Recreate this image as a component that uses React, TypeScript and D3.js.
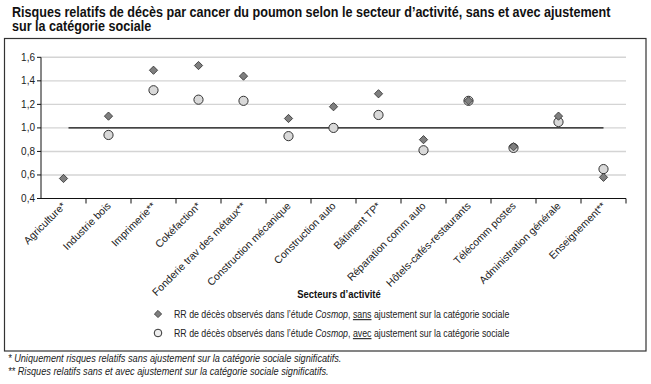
import React from 'react'
import * as d3 from 'd3'

// secteurs d'activité
const categories = [
	'Agriculture*',
	'Industrie bois',
	'Imprimerie**',
	'Cokéfaction*',
	'Fonderie trav des métaux**',
	'Construction mécanique',
	'Construction auto',
	'Bâtiment TP*',
	'Réparation comm auto',
	'Hôtels-cafés-restaurants',
	'Télécomm postes',
	'Administration générale',
	'Enseignement**',
]

// RR sans ajustement (losanges)
const rrSans = [0.57, 1.1, 1.49, 1.53, 1.44, 1.08, 1.18, 1.29, 0.9, 1.23, 0.84, 1.1, 0.58]
// RR avec ajustement (ronds) - pas de valeur pour Agriculture
const rrAvec: (number | null)[] = [null, 0.94, 1.32, 1.24, 1.23, 0.93, 1.0, 1.11, 0.81, 1.23, 0.83, 1.05, 0.65]

const yTicks = [0.4, 0.6, 0.8, 1.0, 1.2, 1.4, 1.6]

const font = '"Liberation Sans", Arial, sans-serif'

const App = () => {
	const width = 651,
		height = 384

	const x = d3.scaleBand().domain(categories).range([41, 626])
	const y = d3.scaleLinear().domain([0.4, 1.6]).range([198.5, 57.3])
	const cx = (c: string) => x(c)! + x.bandwidth() / 2
	const fmt = (v: number) => d3.format('.1f')(v).replace('.', ',')

	const diamond = d3.symbol().type(d3.symbolSquare).size(34)()!
	const diamondSmall = d3.symbol().type(d3.symbolSquare).size(26)()!
	const bottom = y(0.4)

	return (
		<svg
			width={width}
			height={height}
			style={{ position: 'absolute', left: 0, top: 0, background: '#fff' }}
			fontFamily={font}
		>
			<g transform="translate(12,16.5) scale(0.9,1)" fontSize={14} fontWeight="bold" fill="#111">
				<text x={0} y={0}>
					Risques relatifs de décès par cancer du poumon selon le secteur d’activité, sans et avec ajustement
				</text>
				<text x={0} y={14.5}>
					sur la catégorie sociale
				</text>
			</g>

			<rect x={4.5} y={38.5} width={641.5} height={312.5} fill="none" stroke="#333" strokeWidth={1.2} />

			{/* grille */}
			{yTicks.slice(1).map((t) => (
				<line key={t} x1={41} x2={626} y1={y(t)} y2={y(t)} stroke="#d4d4d4" strokeWidth={1.4} />
			))}

			{/* axe y */}
			<line x1={41} x2={41} y1={y(1.6)} y2={bottom} stroke="#111" />
			{yTicks.map((t) => (
				<g key={t}>
					<line x1={37} x2={41} y1={y(t)} y2={y(t)} stroke="#111" />
					<text x={35} y={y(t) + 3.5} fontSize={10} textAnchor="end" fill="#222">
						{fmt(t)}
					</text>
				</g>
			))}

			{/* axe x */}
			<line x1={41} x2={626} y1={bottom} y2={bottom} stroke="#111" />
			{categories.map((c) => (
				<line key={c} x1={x(c)! + x.bandwidth()} x2={x(c)! + x.bandwidth()} y1={bottom} y2={bottom + 5} stroke="#111" />
			))}
			{categories.map((c) => (
				<text
					key={c}
					transform={`translate(${cx(c) + 3},${bottom + 8}) rotate(-45)`}
					fontSize={10.5}
					textAnchor="end"
					fill="#222"
				>
					{c}
				</text>
			))}

			{/* référence RR = 1 */}
			<line
				x1={cx(categories[0]) + 5}
				x2={cx(categories[categories.length - 1])}
				y1={y(1)}
				y2={y(1)}
				stroke="#111"
				strokeWidth={1.3}
			/>

			{rrAvec.map((v, i) =>
				v == null ? null : (
					<circle key={i} cx={cx(categories[i])} cy={y(v)} r={4.6} fill="#d9d9d9" stroke="#333" strokeWidth={1} />
				),
			)}
			{rrSans.map((v, i) => (
				<path
					key={i}
					d={diamond}
					transform={`translate(${cx(categories[i])},${y(v)}) rotate(45)`}
					fill="#7f7f7f"
					stroke="#333"
					strokeWidth={0.8}
				/>
			))}

			<g transform="translate(339,298) scale(0.86,1)">
				<text x={0} y={0} fontSize={11} fontWeight="bold" textAnchor="middle" fill="#111">
					Secteurs d’activité
				</text>
			</g>

			{/* légende */}
			<path d={diamondSmall} transform="translate(158,314) rotate(45)" fill="#7f7f7f" stroke="#333" strokeWidth={0.8} />
			<circle cx={158} cy={333} r={3.8} fill="#eee" stroke="#333" strokeWidth={1} />
			<g transform="translate(174,318) scale(0.8,1)" fontSize={11} fill="#222">
				<text x={0} y={0}>
					RR de décès observés dans l’étude <tspan fontStyle="italic">Cosmop</tspan>,{' '}
					<tspan textDecoration="underline">sans</tspan> ajustement sur la catégorie sociale
				</text>
				<text x={0} y={19}>
					RR de décès observés dans l’étude <tspan fontStyle="italic">Cosmop</tspan>,{' '}
					<tspan textDecoration="underline">avec</tspan> ajustement sur la catégorie sociale
				</text>
			</g>

			<g transform="translate(8,362) scale(0.92,1)" fontSize={10} fontStyle="italic" fill="#222">
				<text x={0} y={0}>
					*  Uniquement risques relatifs sans ajustement sur la catégorie sociale significatifs.
				</text>
				<text x={0} y={13}>
					** Risques relatifs sans et avec ajustement sur la catégorie sociale significatifs.
				</text>
			</g>
		</svg>
	)
}

export default App
